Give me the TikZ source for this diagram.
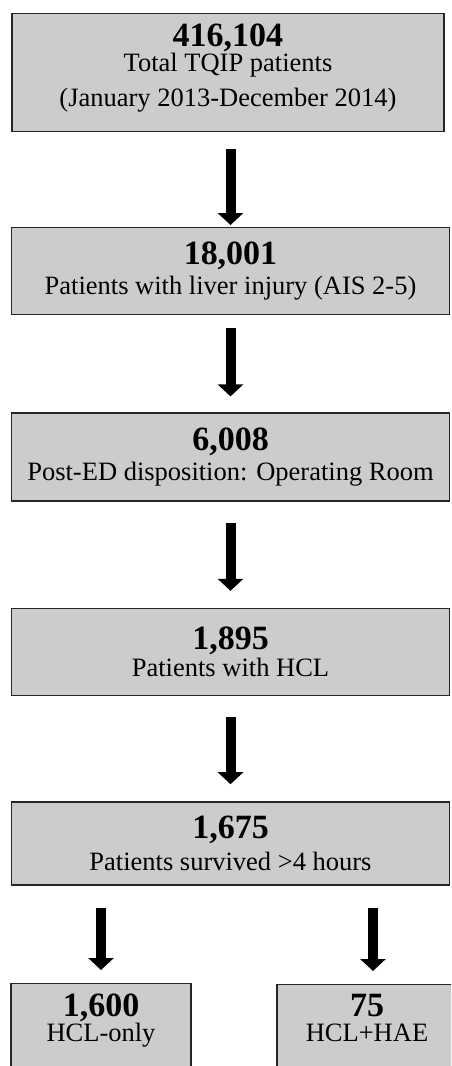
\documentclass[tikz,border=0pt]{standalone}
\usepackage{fontspec}
\setmainfont{Liberation Serif}
\usetikzlibrary{arrows.meta,positioning}
\definecolor{boxgray}{RGB}{204,204,204}
\tikzset{
  box/.style={
    draw=black!85,
    fill=boxgray,
    line width=1.4pt,
    align=center,
    inner sep=0pt,
    font=\fontsize{26.5}{29}\selectfont
  },
  flow/.style={line width=10pt, -{Triangle[length=12pt,width=25pt]}}
}
\newcommand{\countnum}[1]{{\fontsize{34}{29}\selectfont\bfseries #1}}

\begin{document}
\begin{tikzpicture}[x=1pt,y=-1pt]
        \clip (0,0) rectangle (451,1066);
        \node[box, minimum width=432pt, anchor=north, inner ysep=10pt, text depth=15pt] (total) at (228,13)
          {\countnum{416,104}\\[-4pt]Total TQIP patients\\[6pt](January 2013-December 2014)};
        \node[box, minimum width=438pt, minimum height=87pt, below=95pt of total, xshift=2.5pt] (liver)
          {\countnum{18,001}\\[1pt]Patients with liver injury (AIS 2-5)};
        \node[box, minimum width=438pt, minimum height=88pt, below=97pt of liver] (surgery)
          {\countnum{6,008}\\[1pt]Post-ED disposition: Operating Room};
        \node[box, minimum width=438pt, minimum height=87pt, below=106pt of surgery] (hcl)
          {\countnum{1,895}\\[-2pt]Patients with HCL};
        \node[box, minimum width=438pt, minimum height=83pt, below=105pt of hcl] (survived)
          {\countnum{1,675}\\[3pt]Patients survived >4 hours};
        \node[box, minimum width=180pt, anchor=north, inner ysep=10pt, text depth=45pt] (hclonly) at (101,983)
          {\countnum{1,600}\\[-4pt]HCL-only};
        \node[box, minimum width=180pt, anchor=north, inner ysep=10pt, text depth=45pt] (hae) at (367,984)
          {\countnum{75}\\[-4pt]HCL+HAE};
        \draw[flow, shorten <=17pt, shorten >=2pt] (liver.north |- total.south) -- (liver.north);
        \draw[flow, shorten <=13pt, shorten >=16pt] (liver) -- (surgery);
        \draw[flow, shorten <=21pt, shorten >=17pt] (surgery) -- (hcl);
        \draw[flow, shorten <=21pt, shorten >=17pt] (hcl) -- (survived);
        \draw[flow, shorten <=22pt, shorten >=13pt] (hclonly.north |- survived.south) -- (hclonly.north);
        \draw[flow, shorten <=22pt, shorten >=13pt] ([xshift=6pt]hae.north |- survived.south) -- ([xshift=6pt]hae.north);
      \end{tikzpicture}
\end{document}
